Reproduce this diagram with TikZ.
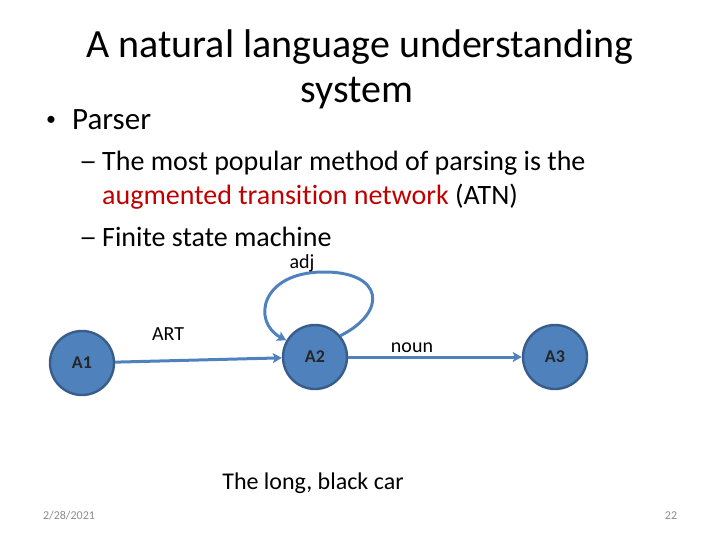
\documentclass[tikz,border=0pt]{standalone}
\usepackage{fontspec}
\setmainfont{Carlito}[Ligatures=NoCommon]
\usetikzlibrary{arrows.meta}
\definecolor{stateblue}{HTML}{4F81BD}
\definecolor{statedark}{HTML}{385D8A}
\definecolor{atnred}{HTML}{C00000}
\newcommand{\fsz}[1]{\fontsize{#1}{1.2\dimexpr#1pt\relax}\selectfont}
\begin{document}
\begin{tikzpicture}[
	x=1pt, y=-1pt,
	title/.style={anchor=base, inner sep=0pt, font=\fsz{40}},
	lvlone/.style={anchor=base west, inner sep=0pt, font=\fsz{31}},
	lvltwo/.style={anchor=base west, inner sep=0pt, font=\fsz{28}},
	state/.style={circle, draw=statedark, line width=2.4pt, fill=stateblue,
		minimum size=64pt, inner sep=0pt, font=\fsz{18}\bfseries, text=black!85},
	edge/.style={draw=stateblue, line width=3pt,
		-{Stealth[length=9pt, width=10pt, inset=2pt]}},
	arclabel/.style={anchor=base, inner sep=0pt, font=\fsz{20}},
	footer/.style={anchor=base, inner sep=0pt, font=\fsz{12}, text=black!45},
]
\useasboundingbox (0,0) rectangle (720,540);
\node[title] (t1) at (360,58) {A natural language understanding};
\node[title] (t2) at (357,103) {system};
\node[anchor=center, inner sep=0pt, font=\fsz{20}] (b1) at (51,121) {\textbullet};
\node[lvlone] (parser) at (72,130) {Parser};
\node[lvltwo] (d1) at (79,171) {\scalebox{1.3}[1]{--}};
\node[lvltwo] (s1) at (102,171) {The most popular method of parsing is the};
\node[lvltwo] (s2) at (102,205) {\textcolor{atnred}{augmented transition network} (ATN)};
\node[lvltwo] (d2) at (79,246) {\scalebox{1.3}[1]{--}};
\node[lvltwo] (s3) at (102,246) {Finite state machine};
\node[state] (A1) at (82,363) {A1};
\node[state] (A2) at (315,357) {A2};
\node[state] (A3) at (555,357) {A3};
\coordinate (looptop) at (322,272);
\draw[edge] (A1) -- (A2);
\draw[edge] (A2) -- (A3);
\draw[edge] (A2.40) .. controls (388,312) and (384,271) .. (looptop)
	.. controls (260,273) and (252,322) .. (A2.150);
\node[arclabel] (art) at (168,340) {ART};
\node[arclabel] (noun) at (412,352) {noun};
\node[arclabel] (adj) at (302,268) {adj};
\node[anchor=base, inner sep=0pt, font=\fsz{24}] (car) at (313,489) {The long, black car};
\node[footer] (date) at (69,519) {2/28/2021};
\node[footer] (page) at (671,519) {22};
\end{tikzpicture}
\end{document}
